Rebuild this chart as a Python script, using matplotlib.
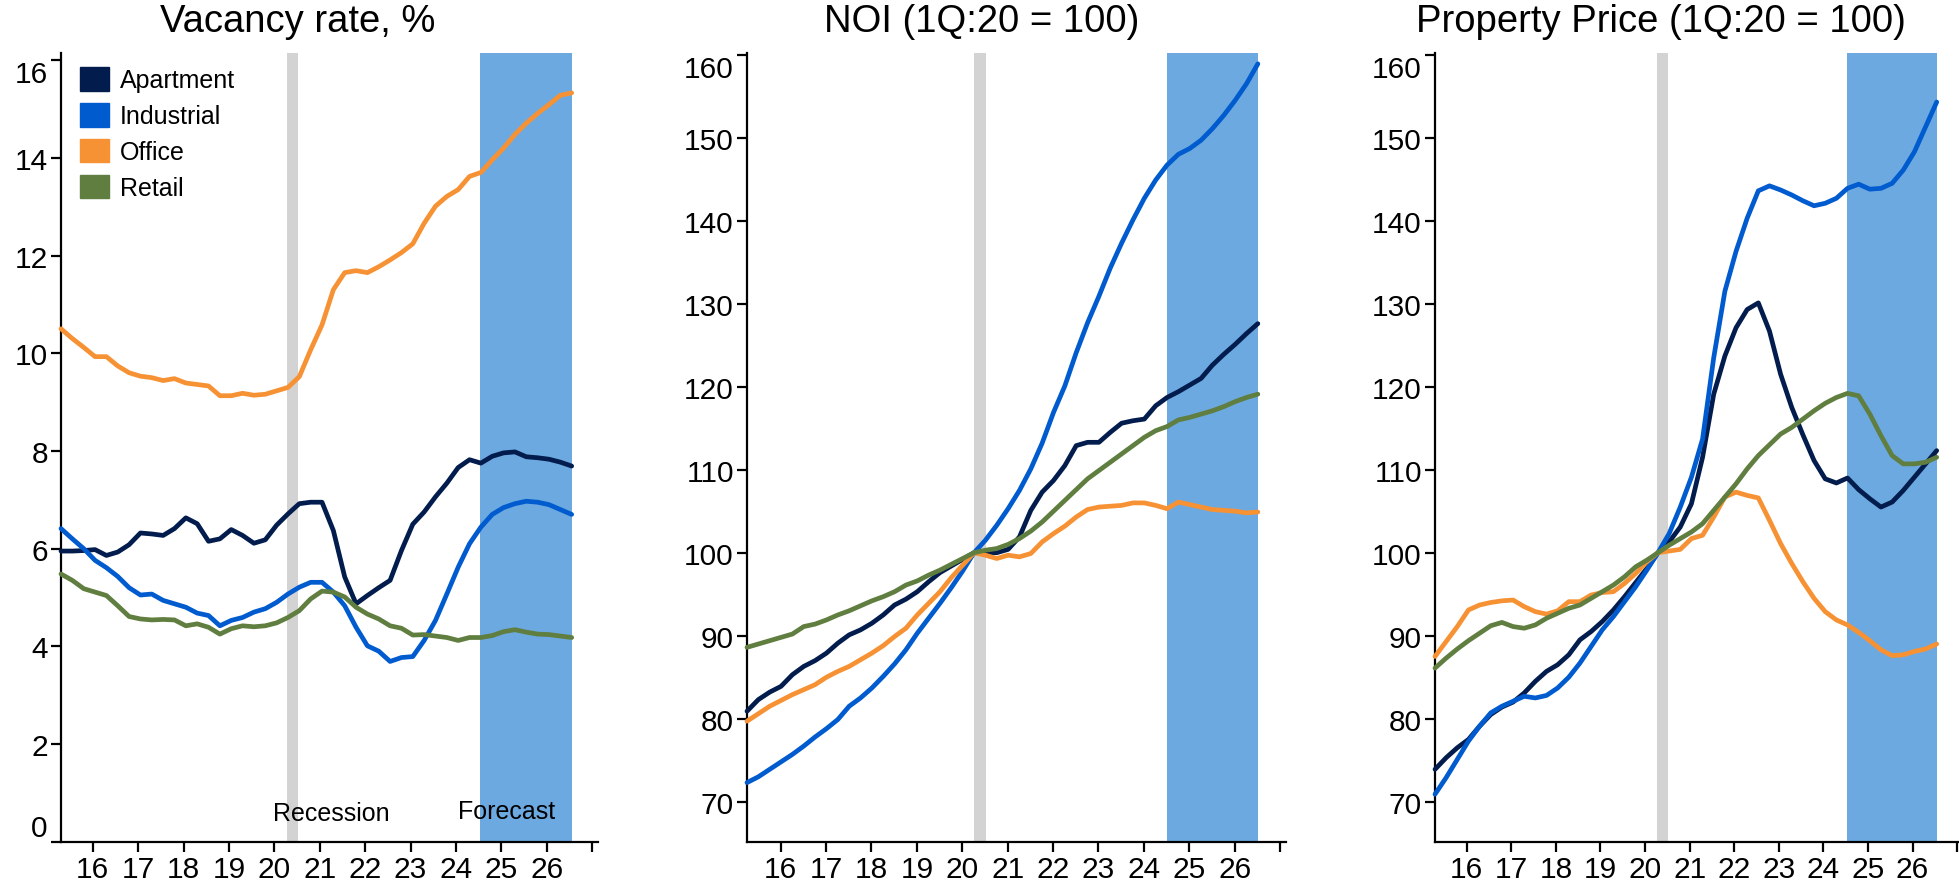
import matplotlib
matplotlib.use('Agg')
import matplotlib.pyplot as plt
import numpy as np

plt.rcParams['font.family'] = ['Liberation Sans', 'DejaVu Sans']

# quarterly data, 1Q15 .. 2Q26
quarters = [f'{q}Q{y}' for y in range(15, 27) for q in range(1, 5)][:46]
series = ['Apartment', 'Industrial', 'Office', 'Retail']
colors = ['#021c4d', '#005bcf', '#f79234', '#5f7e3f']

vacancy = {
  'Apartment': [5.95, 5.95, 5.96, 5.98, 5.86, 5.93, 6.08, 6.32, 6.30, 6.27, 6.41, 6.63,
                6.51, 6.15, 6.20, 6.39, 6.27, 6.11, 6.18, 6.48, 6.71, 6.92, 6.95, 6.95,
                6.37, 5.42, 4.87, 5.04, 5.20, 5.35, 5.96, 6.50, 6.75, 7.06, 7.34, 7.66,
                7.82, 7.75, 7.89, 7.96, 7.98, 7.88, 7.86, 7.83, 7.77, 7.69],
  'Industrial': [6.41, 6.20, 6.00, 5.76, 5.61, 5.43, 5.20, 5.05, 5.07, 4.94, 4.87, 4.80,
                 4.68, 4.63, 4.42, 4.53, 4.59, 4.70, 4.77, 4.90, 5.07, 5.21, 5.31, 5.31,
                 5.11, 4.83, 4.39, 4.01, 3.90, 3.69, 3.77, 3.79, 4.12, 4.53, 5.07, 5.62,
                 6.10, 6.44, 6.70, 6.84, 6.92, 6.97, 6.95, 6.90, 6.80, 6.70],
  'Office': [10.50, 10.30, 10.12, 9.93, 9.93, 9.74, 9.60, 9.53, 9.50, 9.44, 9.48, 9.39,
             9.36, 9.33, 9.13, 9.13, 9.18, 9.14, 9.16, 9.23, 9.30, 9.52, 10.07, 10.58,
             11.30, 11.65, 11.69, 11.65, 11.77, 11.91, 12.06, 12.24, 12.66, 13.01, 13.21, 13.35,
             13.62, 13.70, 13.96, 14.20, 14.48, 14.71, 14.91, 15.09, 15.28, 15.33],
  'Retail': [5.48, 5.35, 5.18, 5.11, 5.04, 4.83, 4.61, 4.56, 4.54, 4.55, 4.54, 4.42,
             4.46, 4.39, 4.25, 4.36, 4.42, 4.40, 4.42, 4.48, 4.59, 4.73, 4.97, 5.13,
             5.11, 5.01, 4.80, 4.66, 4.56, 4.42, 4.37, 4.23, 4.24, 4.21, 4.18, 4.12,
             4.18, 4.18, 4.22, 4.30, 4.34, 4.29, 4.25, 4.24, 4.21, 4.18],
}

noi = {
  'Apartment': [80.9, 82.3, 83.2, 83.9, 85.3, 86.3, 87.0, 87.9, 89.1, 90.1, 90.7, 91.5,
                92.5, 93.7, 94.4, 95.3, 96.5, 97.6, 98.4, 99.2, 100.0, 100.0, 100.0, 100.4,
                101.9, 105.1, 107.3, 108.7, 110.5, 112.9, 113.3, 113.3, 114.5, 115.6, 115.9, 116.1,
                117.7, 118.7, 119.4, 120.2, 121.0, 122.6, 123.9, 125.1, 126.4, 127.6],
  'Industrial': [72.3, 73.0, 73.9, 74.8, 75.7, 76.7, 77.8, 78.8, 79.9, 81.5, 82.5, 83.7,
                 85.1, 86.6, 88.3, 90.3, 92.1, 93.9, 95.8, 97.8, 100.0, 101.5, 103.3, 105.3,
                 107.5, 110.1, 113.2, 116.9, 120.1, 124.1, 127.7, 130.9, 134.3, 137.3, 140.1, 142.7,
                 144.9, 146.7, 148.0, 148.7, 149.7, 151.1, 152.7, 154.5, 156.5, 158.9],
  'Office': [79.7, 80.6, 81.5, 82.2, 82.9, 83.5, 84.1, 85.0, 85.7, 86.3, 87.1, 87.9,
             88.8, 89.9, 90.9, 92.5, 93.9, 95.3, 97.0, 98.5, 100.0, 99.7, 99.3, 99.7,
             99.5, 99.9, 101.3, 102.3, 103.2, 104.3, 105.2, 105.5, 105.6, 105.7, 106.0, 106.0,
             105.7, 105.3, 106.1, 105.8, 105.5, 105.2, 105.1, 105.0, 104.8, 104.9],
  'Retail': [88.6, 89.0, 89.4, 89.8, 90.2, 91.1, 91.4, 91.9, 92.5, 93.0, 93.6, 94.2,
             94.7, 95.3, 96.1, 96.6, 97.3, 97.9, 98.6, 99.3, 100.0, 100.3, 100.5, 101.0,
             101.7, 102.6, 103.7, 105.0, 106.3, 107.6, 108.9, 109.9, 110.9, 111.9, 112.9, 113.9,
             114.7, 115.2, 116.0, 116.3, 116.7, 117.1, 117.6, 118.2, 118.7, 119.1],
}

price = {
  'Apartment': [73.9, 75.3, 76.5, 77.5, 79.1, 80.5, 81.4, 82.0, 83.1, 84.5, 85.7, 86.5,
                87.7, 89.5, 90.5, 91.7, 93.1, 94.7, 96.4, 98.1, 100.0, 101.3, 103.1, 105.9,
                111.5, 119.1, 123.7, 127.1, 129.3, 130.1, 126.7, 121.5, 117.5, 114.2, 111.1, 108.9,
                108.4, 109.0, 107.6, 106.5, 105.5, 106.1, 107.5, 109.1, 110.7, 112.3],
  'Industrial': [70.9, 72.9, 75.1, 77.3, 79.1, 80.7, 81.5, 82.1, 82.7, 82.5, 82.8, 83.7,
                 85.0, 86.7, 88.7, 90.7, 92.3, 94.1, 95.9, 97.9, 100.0, 102.3, 105.5, 109.1,
                 113.7, 123.5, 131.5, 136.3, 140.3, 143.6, 144.2, 143.7, 143.1, 142.4, 141.8, 142.1,
                 142.7, 143.9, 144.4, 143.8, 143.9, 144.5, 146.1, 148.3, 151.3, 154.3],
  'Office': [87.5, 89.3, 91.1, 93.1, 93.7, 94.0, 94.2, 94.3, 93.5, 92.9, 92.6, 93.0,
             94.1, 94.1, 94.9, 95.2, 95.3, 96.3, 97.5, 98.9, 100.0, 100.2, 100.4, 101.7,
             102.1, 104.3, 106.7, 107.3, 106.9, 106.6, 103.9, 101.1, 98.7, 96.5, 94.5, 92.9,
             91.9, 91.3, 90.4, 89.4, 88.3, 87.6, 87.7, 88.1, 88.4, 89.0],
  'Retail': [86.1, 87.3, 88.4, 89.4, 90.3, 91.2, 91.6, 91.1, 90.9, 91.3, 92.1, 92.7,
             93.3, 93.7, 94.5, 95.3, 96.1, 97.1, 98.3, 99.1, 100.0, 100.9, 101.7, 102.5,
             103.5, 105.1, 106.7, 108.3, 110.1, 111.7, 113.0, 114.3, 115.1, 116.1, 117.1, 118.0,
             118.7, 119.2, 118.9, 116.7, 114.1, 111.7, 110.7, 110.7, 110.9, 111.5],
}

titles = ['Vacancy rate, %', 'NOI (1Q:20 = 100)', 'Property Price (1Q:20 = 100)']
year_labels = ['16', '17', '18', '19', '20', '21', '22', '23', '24', '25', '26']

W, H = 1959, 887
fig = plt.figure(figsize=(W / 100, H / 100), dpi=100)

# panel geometry in pixels: left spine, right end of x axis
px_left = [61, 747, 1435]
px_right = [598, 1286, 1959]
px_top, px_bottom = 54.3, 842.7
xlims = [(15.30, 27.13), (15.26, 27.13), (15.29, 27.04)]
ylims = [(0, 16.14), (65.18, 160.17), (65.18, 160.17)]
yticks = [np.arange(0, 17, 2), np.arange(70, 161, 10), np.arange(70, 161, 10)]
title_x = [298, 982, 1661]

axs = []
for k, data in enumerate([vacancy, noi, price]):
  ax = fig.add_axes([px_left[k] / W, 1 - px_bottom / H,
                     (px_right[k] - px_left[k]) / W, (px_bottom - px_top) / H])
  axs.append(ax)
  ax.patch.set_alpha(0)

  # quarters start right at the y axis
  x = xlims[k][0] + 0.25 * np.arange(len(quarters))

  # shaded recession and forecast periods
  ax.axvspan(20.27, 20.52, color='#d3d3d3', lw=0, zorder=0)
  ax.axvspan(24.52, x[-1], color='#6ca9e1', lw=0, zorder=0)

  for name, c in zip(series, colors):
    ax.plot(x, data[name], color=c, lw=3.4, solid_capstyle='round',
            solid_joinstyle='round', label=name, zorder=3, clip_on=False)

  ax.set_xlim(*xlims[k])
  ax.set_ylim(*ylims[k])
  ax.set_xticks(np.arange(16, 28))
  ax.set_xticklabels(year_labels + [''])
  ax.set_yticks(yticks[k])
  ax.set_yticklabels([str(v) for v in yticks[k]])

  for s in ['top', 'right']:
    ax.spines[s].set_visible(False)
  for s in ['left', 'bottom']:
    ax.spines[s].set_linewidth(1.6)
  ax.tick_params(axis='both', direction='out', length=7, width=1.6,
                 labelsize=21.5, pad=2.5)

  # keep the end labels inside the axis range
  labels = ax.get_yticklabels()
  labels[-1].set_va('top')
  if k == 0:
    labels[0].set_va('bottom')

  fig.text(title_x[k] / W, 1 - 22 / H, titles[k], ha='center', va='center',
           fontsize=27.5)

# legend in the first panel
leg = axs[0].legend(
  [plt.Rectangle((0, 0), 1, 1, color=c) for c in colors], series,
  loc='upper left', bbox_to_anchor=(80 / W, 1 - 68 / H),
  bbox_transform=fig.transFigure, frameon=False, fontsize=18,
  handlelength=1.14, handleheight=1.08, handletextpad=0.45,
  labelspacing=0.42, borderpad=0, borderaxespad=0)

axs[0].text(21.25, 0.59, 'Recession', ha='center', va='center', fontsize=18)
axs[0].text(25.12, 0.63, 'Forecast', ha='center', va='center', fontsize=18)

plt.savefig('out.png', dpi=100)
